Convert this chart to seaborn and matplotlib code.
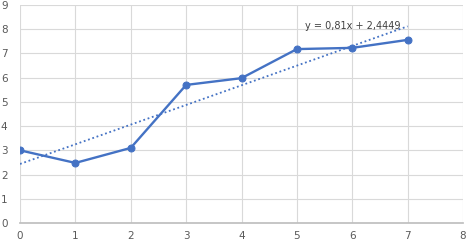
import numpy as np
import pandas as pd
import matplotlib
matplotlib.use("Agg")
import matplotlib.pyplot as plt
import seaborn as sns

x_vals = [0, 1, 2, 3, 4, 5, 6, 7]
y_vals = [3.0, 2.48, 3.1, 5.7, 5.98, 7.18, 7.23, 7.56]
trend_label = "y = 0,81x + 2,4449"
x_ticks = [0, 1, 2, 3, 4, 5, 6, 7, 8]
y_ticks = [0, 1, 2, 3, 4, 5, 6, 7, 8, 9]

sns.set_theme(style="white")
plt.rcParams['font.family'] = ['DejaVu Sans']

df = pd.DataFrame({"x": x_vals, "y": y_vals})
color = "#4472C4"

fig = plt.figure(figsize=(4.73, 2.47), dpi=100)
ax = fig.add_axes([20/473, 24/247, 443/473, 218/247])

slope, intercept = np.polyfit(df["x"], df["y"], 1)
tx = np.array([min(x_vals), max(x_vals)])
ax.plot(tx, slope*tx + intercept, linestyle=(0, (1, 1.5)), color=color, lw=1.3, zorder=2)

sns.lineplot(data=df, x="x", y="y", ax=ax, color=color, lw=1.7, marker="o",
             markersize=5, markeredgecolor=color, zorder=3)

ax.text(6.0, 8.15, trend_label, ha="center", va="center", fontsize=7, color="#404040", zorder=4)

ax.set_xlim(0, 8)
ax.set_ylim(0, 9)
ax.set_xticks(x_ticks)
ax.set_yticks(y_ticks)
ax.grid(True, color="#d9d9d9", lw=0.8)
ax.set_axisbelow(True)
for s in ["top", "right", "left"]:
    ax.spines[s].set_visible(False)
ax.spines["bottom"].set_color("#bfbfbf")
ax.tick_params(axis="both", labelsize=7.5, colors="#595959", length=0)
ax.tick_params(axis="x", pad=6)
ax.tick_params(axis="y", pad=9)
ax.set_xlabel("")
ax.set_ylabel("")

fig.savefig("out.png", dpi=100)
